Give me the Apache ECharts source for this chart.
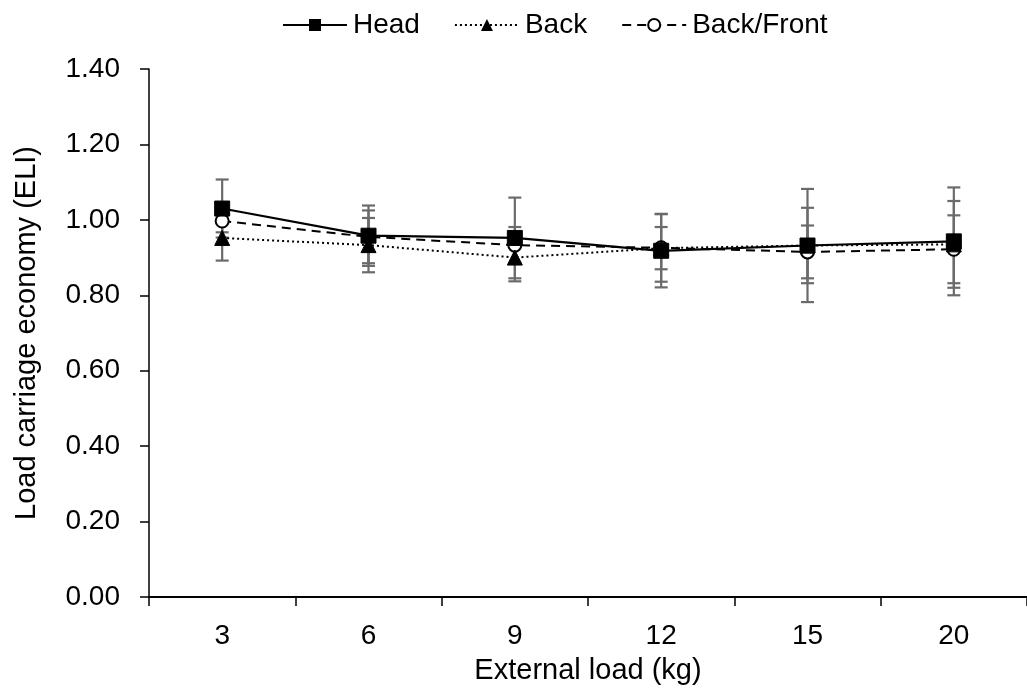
<!DOCTYPE html>
<html>
<head>
<meta charset="utf-8">
<script src="https://cdn.jsdelivr.net/npm/echarts@6/dist/echarts.min.js"></script>
<style>html,body{margin:0;padding:0;background:#fff;}#main{width:1027px;height:690px;}</style>
</head>
<body>
<div id="main"></div>
<script>
var categories = ['3', '6', '9', '12', '15', '20'];
var headVals = [1.030, 0.958, 0.952, 0.918, 0.932, 0.943];
var headErr  = [0.077, 0.080, 0.107, 0.097, 0.150, 0.143];
var backVals = [0.952, 0.933, 0.900, 0.925, 0.932, 0.935];
var backErr  = [0.060, 0.072, 0.063, 0.056, 0.100, 0.115];
var bfVals   = [0.997, 0.955, 0.933, 0.926, 0.915, 0.922];
var bfErr    = [0.030, 0.070, 0.048, 0.090, 0.070, 0.090];

function errData(vals, errs) {
  return vals.map(function (v, i) { return [i, v - errs[i], v + errs[i]]; });
}
function errSeries(vals, errs) {
  return {
    type: 'custom',
    z: 1,
    silent: true,
    data: errData(vals, errs),
    encode: { x: 0, y: [1, 2] },
    renderItem: function (params, api) {
      var i = api.value(0);
      var lo = api.coord([i, api.value(1)]);
      var hi = api.coord([i, api.value(2)]);
      var w = 6.5;
      var st = { stroke: '#6b6b6b', lineWidth: 2.2 };
      return {
        type: 'group',
        children: [
          { type: 'line', shape: { x1: lo[0], y1: lo[1], x2: hi[0], y2: hi[1] }, style: st },
          { type: 'line', shape: { x1: lo[0] - w, y1: lo[1], x2: lo[0] + w, y2: lo[1] }, style: st },
          { type: 'line', shape: { x1: hi[0] - w, y1: hi[1], x2: hi[0] + w, y2: hi[1] }, style: st }
        ]
      };
    }
  };
}

var chart = echarts.init(document.getElementById('main'));
var font = 'Liberation Sans, Arial, sans-serif';
chart.setOption({
  animation: false,
  textStyle: { fontFamily: font },
  legend: {
    top: 6,
    left: 277,
    itemWidth: 64,
    itemHeight: 15,
    itemGap: 34,
    textStyle: { fontSize: 28, color: '#000', fontFamily: font, padding: [0, 0, 0, 1] },
    data: ['Head', 'Back', 'Back/Front']
  },
  grid: { left: 149, right: -5, top: 69, bottom: 93 },
  xAxis: {
    type: 'category',
    data: categories,
    boundaryGap: true,
    name: 'External load (kg)',
    nameLocation: 'middle',
    nameGap: 59,
    nameTextStyle: { fontSize: 29, color: '#000', fontFamily: font },
    axisLine: { lineStyle: { color: '#000', width: 2 } },
    axisTick: { show: true, length: 9, lineStyle: { color: '#000', width: 1.5 } },
    axisLabel: { fontSize: 28, color: '#000', margin: 25, fontFamily: font }
  },
  yAxis: {
    type: 'value',
    min: 0,
    max: 1.4,
    interval: 0.2,
    name: 'Load carriage economy (ELI)',
    nameLocation: 'middle',
    nameGap: 108,
    nameRotate: 90,
    nameTextStyle: { fontSize: 29, color: '#000', fontFamily: font },
    axisLine: { show: true, lineStyle: { color: '#000', width: 1.5 } },
    axisTick: { show: true, length: 9, lineStyle: { color: '#000', width: 1.5 } },
    splitLine: { show: false },
    axisLabel: {
      fontSize: 28, color: '#000', margin: 29, fontFamily: font,
      formatter: function (v) { return v.toFixed(2); }
    }
  },
  series: [
    errSeries(headVals, headErr),
    errSeries(backVals, backErr),
    errSeries(bfVals, bfErr),
    {
      name: 'Head', type: 'line', z: 5, data: headVals,
      symbol: 'rect', symbolSize: 15,
      lineStyle: { color: '#000', width: 2.2, type: 'solid' },
      itemStyle: { color: '#000', borderColor: '#000' }
    },
    {
      name: 'Back', type: 'line', z: 4, data: backVals,
      symbol: 'triangle', symbolSize: 15,
      lineStyle: { color: '#000', width: 2, type: [2, 3] },
      itemStyle: { color: '#000', borderColor: '#000' }
    },
    {
      name: 'Back/Front', type: 'line', z: 3, data: bfVals,
      symbol: 'circle', symbolSize: 13,
      lineStyle: { color: '#000', width: 2, type: [9, 6] },
      itemStyle: { color: '#fff', borderColor: '#000', borderWidth: 2 }
    }
  ]
});
</script>
</body>
</html>
